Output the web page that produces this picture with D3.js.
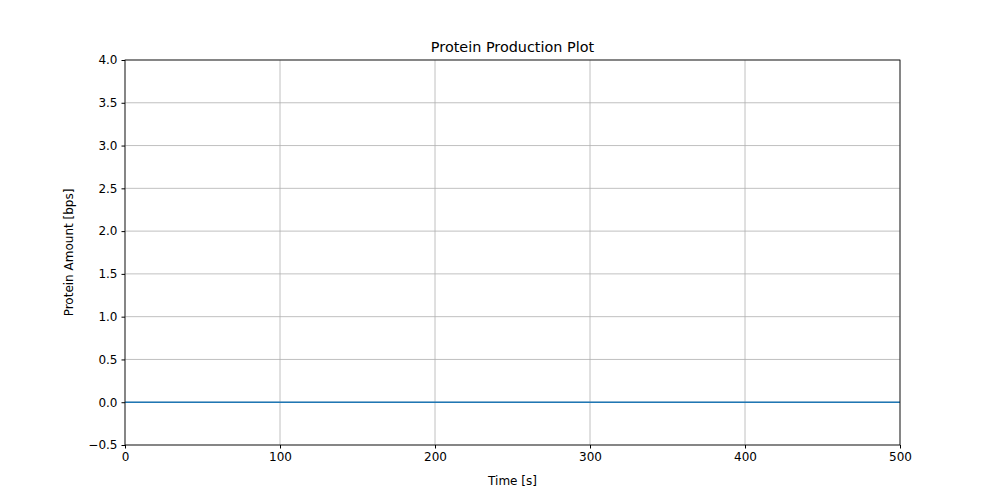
<!DOCTYPE html>
<html><head><meta charset="utf-8">
<script src="https://cdn.jsdelivr.net/npm/d3@7"></script>
<style>body{margin:0;background:#fff}text{font-family:"DejaVu Sans",sans-serif}</style>
</head><body><svg id="c" width="1000" height="500"></svg>
<script>
const times = [0, 100, 200, 300, 400, 500];
const protein = [0, 0, 0, 0, 0, 0];
const xTicks = [0, 100, 200, 300, 400, 500];
const yTicks = [-0.5, 0, 0.5, 1, 1.5, 2, 2.5, 3, 3.5, 4];

const m = {l: 125, r: 900, t: 60, b: 445};
const svg = d3.select('#c');
const x = d3.scaleLinear().domain([0, 500]).range([m.l, m.r]);
const y = d3.scaleLinear().domain([-0.5, 4]).range([m.b, m.t]);

// grid
svg.append('g').selectAll('line').data(xTicks).enter().append('line')
  .attr('x1', d => x(d)).attr('x2', d => x(d)).attr('y1', m.t).attr('y2', m.b)
  .attr('stroke', '#b0b0b0').attr('stroke-width', 0.8);
svg.append('g').selectAll('line').data(yTicks).enter().append('line')
  .attr('y1', d => y(d)).attr('y2', d => y(d)).attr('x1', m.l).attr('x2', m.r)
  .attr('stroke', '#b0b0b0').attr('stroke-width', 0.8);

// line
svg.append('path').datum(times.map((t, i) => [t, protein[i]]))
  .attr('d', d3.line().x(d => x(d[0])).y(d => y(d[1])))
  .attr('fill', 'none').attr('stroke', '#1f77b4').attr('stroke-width', 1.5);

// axes
const xa = svg.append('g').attr('transform', `translate(0,${m.b})`)
  .call(d3.axisBottom(x).tickValues(xTicks).tickSize(3.5).tickPadding(4));
const ya = svg.append('g').attr('transform', `translate(${m.l},0)`)
  .call(d3.axisLeft(y).tickValues(yTicks).tickSize(3.5).tickPadding(4)
    .tickFormat(d => d < 0 ? '\u2212' + Math.abs(d).toFixed(1) : d.toFixed(1)));
[xa, ya].forEach(a => {
  a.select('.domain').remove();
  a.selectAll('text').attr('font-size', 12).attr('fill', '#000').attr('font-family', '"DejaVu Sans",sans-serif');
  a.selectAll('line').attr('stroke', '#000');
});
svg.append('rect').attr('x', m.l).attr('y', m.t).attr('width', m.r - m.l).attr('height', m.b - m.t)
  .attr('fill', 'none').attr('stroke', '#000').attr('stroke-width', 0.8);

svg.append('text').attr('x', (m.l + m.r) / 2).attr('y', 52).attr('text-anchor', 'middle')
  .attr('font-size', 14.4).text('Protein Production Plot');
svg.append('text').attr('x', (m.l + m.r) / 2).attr('y', 485).attr('text-anchor', 'middle')
  .attr('font-size', 12).text('Time [s]');
svg.append('text').attr('transform', `translate(73,${(m.t + m.b) / 2}) rotate(-90)`)
  .attr('text-anchor', 'middle').attr('font-size', 12).text('Protein Amount [bps]');
</script></body></html>
